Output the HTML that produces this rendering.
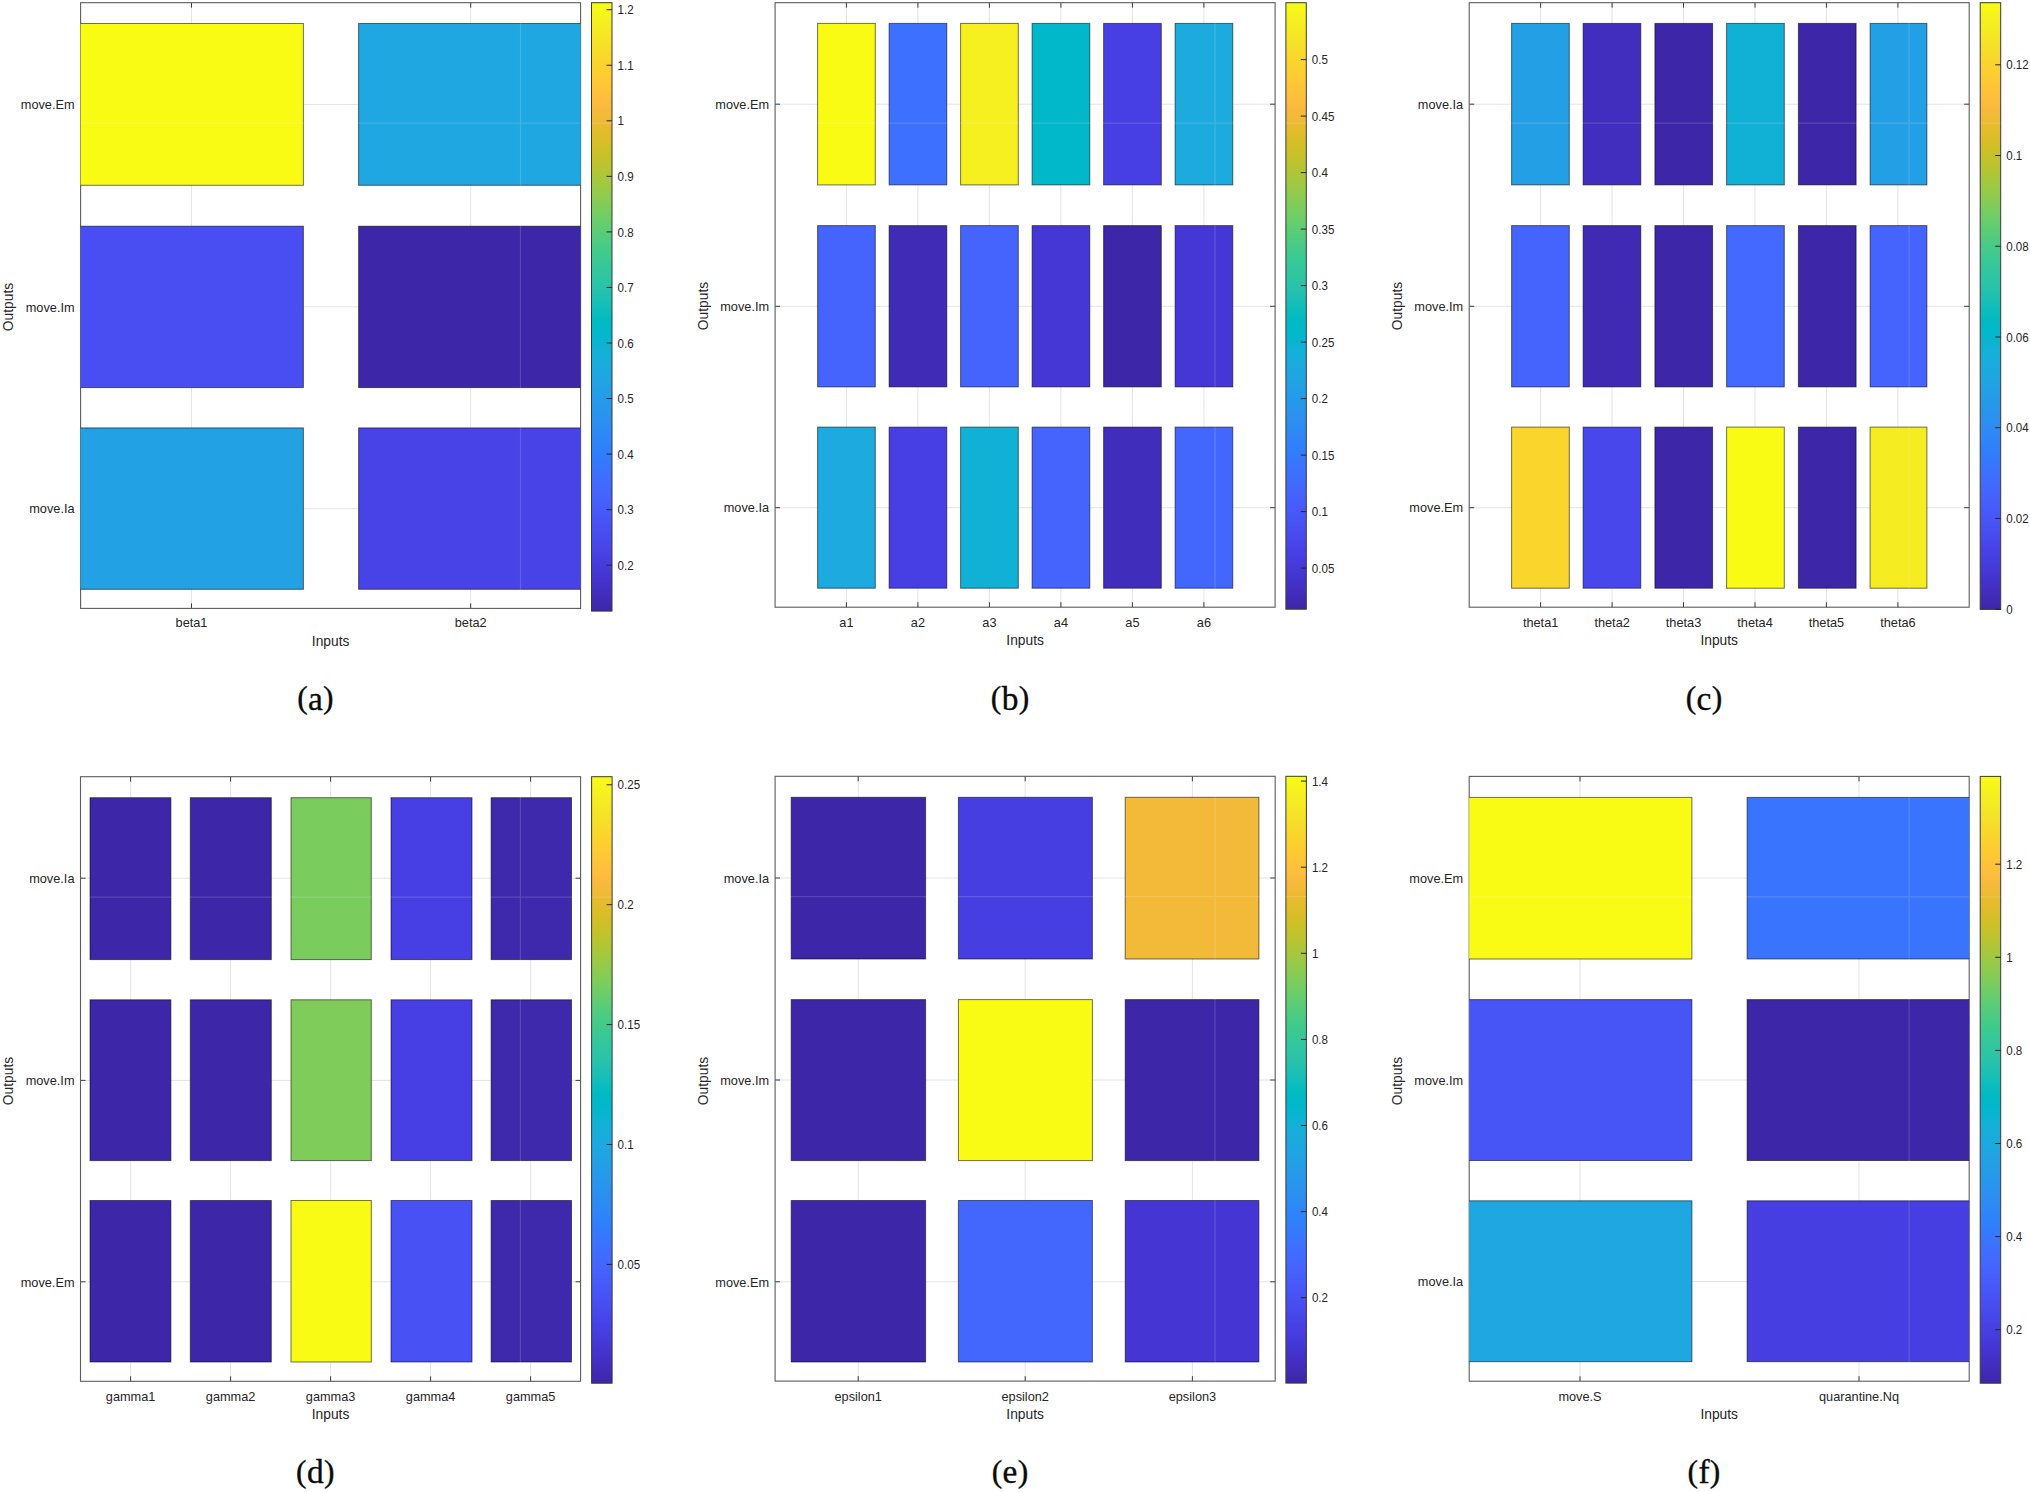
<!DOCTYPE html>
<html lang="en"><head><meta charset="utf-8"><title>Sensitivity heatmaps</title>
<style>html,body{margin:0;padding:0;background:#fff}body{width:2030px;height:1492px;overflow:hidden}svg{display:block}.t{font:12.75px "Liberation Sans",Arial,sans-serif;fill:#262626}.l{font:13.8px "Liberation Sans",Arial,sans-serif;fill:#262626}.b{font:12.8px "Liberation Sans",Arial,sans-serif;fill:#262626}.c{font:33.4px "Liberation Serif","Times New Roman",serif;fill:#0a0a0a;stroke:#0a0a0a;stroke-width:.35px}.p{font-size:31.6px}</style></head><body>
<svg width="2030" height="1492" viewBox="0 0 2030 1492">
<defs><linearGradient id="par" x1="0" y1="1" x2="0" y2="0">
<stop offset="0.0000" stop-color="#3e26a8"/>
<stop offset="0.0159" stop-color="#402ab4"/>
<stop offset="0.0317" stop-color="#422ec0"/>
<stop offset="0.0476" stop-color="#4332cb"/>
<stop offset="0.0635" stop-color="#4537d5"/>
<stop offset="0.0794" stop-color="#463cde"/>
<stop offset="0.0952" stop-color="#4741e5"/>
<stop offset="0.1111" stop-color="#4747eb"/>
<stop offset="0.1270" stop-color="#484df0"/>
<stop offset="0.1429" stop-color="#4852f4"/>
<stop offset="0.1587" stop-color="#4758f8"/>
<stop offset="0.1746" stop-color="#465efb"/>
<stop offset="0.1905" stop-color="#4563fd"/>
<stop offset="0.2063" stop-color="#4269fe"/>
<stop offset="0.2222" stop-color="#3e6fff"/>
<stop offset="0.2381" stop-color="#3875fe"/>
<stop offset="0.2540" stop-color="#327cfc"/>
<stop offset="0.2698" stop-color="#2f81fa"/>
<stop offset="0.2857" stop-color="#2e87f7"/>
<stop offset="0.3016" stop-color="#2d8cf3"/>
<stop offset="0.3175" stop-color="#2b91ef"/>
<stop offset="0.3333" stop-color="#2797eb"/>
<stop offset="0.3492" stop-color="#259be8"/>
<stop offset="0.3651" stop-color="#23a0e5"/>
<stop offset="0.3810" stop-color="#20a5e3"/>
<stop offset="0.3968" stop-color="#1ca9df"/>
<stop offset="0.4127" stop-color="#18addb"/>
<stop offset="0.4286" stop-color="#12b1d6"/>
<stop offset="0.4444" stop-color="#08b5d0"/>
<stop offset="0.4603" stop-color="#01b8ca"/>
<stop offset="0.4762" stop-color="#02bac3"/>
<stop offset="0.4921" stop-color="#0bbdbd"/>
<stop offset="0.5079" stop-color="#19bfb6"/>
<stop offset="0.5238" stop-color="#24c1ae"/>
<stop offset="0.5397" stop-color="#2cc4a7"/>
<stop offset="0.5556" stop-color="#31c69f"/>
<stop offset="0.5714" stop-color="#37c897"/>
<stop offset="0.5873" stop-color="#3fca8e"/>
<stop offset="0.6032" stop-color="#4acb84"/>
<stop offset="0.6190" stop-color="#57cc7a"/>
<stop offset="0.6349" stop-color="#64cd6f"/>
<stop offset="0.6508" stop-color="#72cd64"/>
<stop offset="0.6667" stop-color="#81cc59"/>
<stop offset="0.6825" stop-color="#8fcb4e"/>
<stop offset="0.6984" stop-color="#9dc943"/>
<stop offset="0.7143" stop-color="#abc739"/>
<stop offset="0.7302" stop-color="#b9c431"/>
<stop offset="0.7460" stop-color="#c5c22a"/>
<stop offset="0.7619" stop-color="#d1bf27"/>
<stop offset="0.7778" stop-color="#dcbd29"/>
<stop offset="0.7937" stop-color="#e6bb2d"/>
<stop offset="0.8095" stop-color="#f0ba36"/>
<stop offset="0.8254" stop-color="#f8ba3d"/>
<stop offset="0.8413" stop-color="#febe3c"/>
<stop offset="0.8571" stop-color="#fec338"/>
<stop offset="0.8730" stop-color="#fec934"/>
<stop offset="0.8889" stop-color="#fccf30"/>
<stop offset="0.9048" stop-color="#fad62d"/>
<stop offset="0.9206" stop-color="#f7dc2a"/>
<stop offset="0.9365" stop-color="#f5e327"/>
<stop offset="0.9524" stop-color="#f5e924"/>
<stop offset="0.9683" stop-color="#f6ef20"/>
<stop offset="0.9841" stop-color="#f7f51b"/>
<stop offset="1.0000" stop-color="#f9fb15"/>
</linearGradient></defs>
<rect width="2030" height="1492" fill="#fff"/>
<path d="M191.5 2.7V608.4M470.7 2.7V608.4M80.6 104.5H580.6M80.6 306.8H580.6M80.6 508.7H580.6" stroke="#e4e4e4" stroke-width="1" fill="none"/>
<path d="M191.5 608.4v-5M191.5 2.7v5M470.7 608.4v-5M470.7 2.7v5M80.6 104.5h5M580.6 104.5h-5M80.6 306.8h5M580.6 306.8h-5M80.6 508.7h5M580.6 508.7h-5" stroke="#3c3c3c" stroke-width="1" fill="none"/>
<rect x="80.6" y="2.7" width="500" height="605.7" fill="none" stroke="#5c5c5c" stroke-width="1.1"/>
<clipPath id="ca"><rect x="80.6" y="2.7" width="500" height="605.7"/></clipPath>
<g clip-path="url(#ca)" stroke="#000" stroke-opacity="0.55" stroke-width="1">
<rect x="70" y="23.5" width="233.4" height="161.8" fill="#f9fb15"/>
<rect x="358.6" y="23.5" width="241.4" height="161.8" fill="#1ea7e1"/>
<rect x="70" y="226.2" width="233.4" height="161.4" fill="#484ef1"/>
<rect x="358.6" y="226.2" width="241.4" height="161.4" fill="#3e26a8"/>
<rect x="70" y="427.9" width="233.4" height="161.4" fill="#22a1e4"/>
<rect x="358.6" y="427.9" width="241.4" height="161.4" fill="#4743e7"/>
</g>
<text transform="translate(191.5 627.4) scale(1 1.03)" text-anchor="middle" class="t">beta1</text>
<text transform="translate(470.7 627.4) scale(1 1.03)" text-anchor="middle" class="t">beta2</text>
<text transform="translate(74.6 109.2) scale(1 1.03)" text-anchor="end" class="t">move.Em</text>
<text transform="translate(74.6 311.5) scale(1 1.03)" text-anchor="end" class="t">move.Im</text>
<text transform="translate(74.6 513.4) scale(1 1.03)" text-anchor="end" class="t">move.Ia</text>
<text x="330.6" y="645.95" text-anchor="middle" class="l">Inputs</text>
<text transform="translate(13 307) rotate(-90)" text-anchor="middle" class="l">Outputs</text>
<text x="315.4" y="708.2" text-anchor="middle" class="c"><tspan class="p">(</tspan><tspan dy="1.5" dx="0.3">a</tspan><tspan class="p" dy="-1.5" dx="0.3">)</tspan></text>
<rect x="591.5" y="2.7" width="20.5" height="608.4" fill="url(#par)" stroke="#3a3a3a" stroke-width="1"/>
<text transform="translate(617.5 14.35) scale(.905 1)" class="b">1.2</text>
<text transform="translate(617.5 69.9) scale(.905 1)" class="b">1.1</text>
<text transform="translate(617.5 125.45) scale(.905 1)" class="b">1</text>
<text transform="translate(617.5 181) scale(.905 1)" class="b">0.9</text>
<text transform="translate(617.5 236.55) scale(.905 1)" class="b">0.8</text>
<text transform="translate(617.5 292.1) scale(.905 1)" class="b">0.7</text>
<text transform="translate(617.5 347.65) scale(.905 1)" class="b">0.6</text>
<text transform="translate(617.5 403.2) scale(.905 1)" class="b">0.5</text>
<text transform="translate(617.5 458.75) scale(.905 1)" class="b">0.4</text>
<text transform="translate(617.5 514.3) scale(.905 1)" class="b">0.3</text>
<text transform="translate(617.5 569.85) scale(.905 1)" class="b">0.2</text>
<path d="M612 9.7h-5.5M612 65.25h-5.5M612 120.8h-5.5M612 176.35h-5.5M612 231.9h-5.5M612 287.45h-5.5M612 343h-5.5M612 398.55h-5.5M612 454.1h-5.5M612 509.65h-5.5M612 565.2h-5.5" stroke="#262626" stroke-width="1" fill="none"/>
<path d="M520.5 3.3V607.8M81.2 123.1H580M591.5 123.1H612" stroke="#fff" stroke-opacity="0.15" stroke-width="1.2" fill="none"/>
<path d="M846.4 2.7V607.2M917.9 2.7V607.2M989.4 2.7V607.2M1060.9 2.7V607.2M1132.4 2.7V607.2M1203.9 2.7V607.2M775.1 104.2H1275.1M775.1 306.3H1275.1M775.1 507.7H1275.1" stroke="#e4e4e4" stroke-width="1" fill="none"/>
<path d="M846.4 607.2v-5M846.4 2.7v5M917.9 607.2v-5M917.9 2.7v5M989.4 607.2v-5M989.4 2.7v5M1060.9 607.2v-5M1060.9 2.7v5M1132.4 607.2v-5M1132.4 2.7v5M1203.9 607.2v-5M1203.9 2.7v5M775.1 104.2h5M1275.1 104.2h-5M775.1 306.3h5M1275.1 306.3h-5M775.1 507.7h5M1275.1 507.7h-5" stroke="#3c3c3c" stroke-width="1" fill="none"/>
<rect x="775.1" y="2.7" width="500" height="604.5" fill="none" stroke="#5c5c5c" stroke-width="1.1"/>
<clipPath id="cb"><rect x="775.1" y="2.7" width="500" height="604.5"/></clipPath>
<g clip-path="url(#cb)" stroke="#000" stroke-opacity="0.55" stroke-width="1">
<rect x="817.6" y="23.4" width="57.7" height="161.5" fill="#f9fb15"/>
<rect x="889.1" y="23.4" width="57.7" height="161.5" fill="#3d70ff"/>
<rect x="960.6" y="23.4" width="57.7" height="161.5" fill="#f6f020"/>
<rect x="1032.1" y="23.4" width="57.7" height="161.5" fill="#01b8ca"/>
<rect x="1103.6" y="23.4" width="57.7" height="161.5" fill="#473fe3"/>
<rect x="1175.1" y="23.4" width="57.7" height="161.5" fill="#1caadf"/>
<rect x="817.6" y="225.6" width="57.7" height="161.3" fill="#4563fd"/>
<rect x="889.1" y="225.6" width="57.7" height="161.3" fill="#402bb7"/>
<rect x="960.6" y="225.6" width="57.7" height="161.3" fill="#4563fd"/>
<rect x="1032.1" y="225.6" width="57.7" height="161.3" fill="#4537d6"/>
<rect x="1103.6" y="225.6" width="57.7" height="161.3" fill="#3e26a8"/>
<rect x="1175.1" y="225.6" width="57.7" height="161.3" fill="#4537d6"/>
<rect x="817.6" y="427.1" width="57.7" height="161.1" fill="#1caadf"/>
<rect x="889.1" y="427.1" width="57.7" height="161.1" fill="#473fe3"/>
<rect x="960.6" y="427.1" width="57.7" height="161.1" fill="#11b1d6"/>
<rect x="1032.1" y="427.1" width="57.7" height="161.1" fill="#4563fd"/>
<rect x="1103.6" y="427.1" width="57.7" height="161.1" fill="#412dbb"/>
<rect x="1175.1" y="427.1" width="57.7" height="161.1" fill="#4367fd"/>
</g>
<text transform="translate(846.4 626.9) scale(1 1.03)" text-anchor="middle" class="t">a1</text>
<text transform="translate(917.9 626.9) scale(1 1.03)" text-anchor="middle" class="t">a2</text>
<text transform="translate(989.4 626.9) scale(1 1.03)" text-anchor="middle" class="t">a3</text>
<text transform="translate(1060.9 626.9) scale(1 1.03)" text-anchor="middle" class="t">a4</text>
<text transform="translate(1132.4 626.9) scale(1 1.03)" text-anchor="middle" class="t">a5</text>
<text transform="translate(1203.9 626.9) scale(1 1.03)" text-anchor="middle" class="t">a6</text>
<text transform="translate(769.1 108.9) scale(1 1.03)" text-anchor="end" class="t">move.Em</text>
<text transform="translate(769.1 311) scale(1 1.03)" text-anchor="end" class="t">move.Im</text>
<text transform="translate(769.1 512.4) scale(1 1.03)" text-anchor="end" class="t">move.Ia</text>
<text x="1025.1" y="645.45" text-anchor="middle" class="l">Inputs</text>
<text transform="translate(707.6 306) rotate(-90)" text-anchor="middle" class="l">Outputs</text>
<text x="1010" y="708.2" text-anchor="middle" class="c"><tspan class="p">(</tspan><tspan dy="1.5" dx="0.3">b</tspan><tspan class="p" dy="-1.5" dx="0.3">)</tspan></text>
<rect x="1285.9" y="2.7" width="20.4" height="606.5" fill="url(#par)" stroke="#3a3a3a" stroke-width="1"/>
<text transform="translate(1311.8 64.25) scale(.905 1)" class="b">0.5</text>
<text transform="translate(1311.8 120.75) scale(.905 1)" class="b">0.45</text>
<text transform="translate(1311.8 177.25) scale(.905 1)" class="b">0.4</text>
<text transform="translate(1311.8 233.75) scale(.905 1)" class="b">0.35</text>
<text transform="translate(1311.8 290.25) scale(.905 1)" class="b">0.3</text>
<text transform="translate(1311.8 346.75) scale(.905 1)" class="b">0.25</text>
<text transform="translate(1311.8 403.25) scale(.905 1)" class="b">0.2</text>
<text transform="translate(1311.8 459.75) scale(.905 1)" class="b">0.15</text>
<text transform="translate(1311.8 516.25) scale(.905 1)" class="b">0.1</text>
<text transform="translate(1311.8 572.75) scale(.905 1)" class="b">0.05</text>
<path d="M1306.3 59.6h-5.5M1306.3 116.1h-5.5M1306.3 172.6h-5.5M1306.3 229.1h-5.5M1306.3 285.6h-5.5M1306.3 342.1h-5.5M1306.3 398.6h-5.5M1306.3 455.1h-5.5M1306.3 511.6h-5.5M1306.3 568.1h-5.5" stroke="#262626" stroke-width="1" fill="none"/>
<path d="M1215 3.3V606.6M775.7 123.1H1274.5M1285.9 123.1H1306.3" stroke="#fff" stroke-opacity="0.15" stroke-width="1.2" fill="none"/>
<path d="M1540.6 2.7V607.2M1612.1 2.7V607.2M1683.5 2.7V607.2M1755 2.7V607.2M1826.4 2.7V607.2M1897.9 2.7V607.2M1469.2 104.2H1969.2M1469.2 306.3H1969.2M1469.2 507.7H1969.2" stroke="#e4e4e4" stroke-width="1" fill="none"/>
<path d="M1540.6 607.2v-5M1540.6 2.7v5M1612.1 607.2v-5M1612.1 2.7v5M1683.5 607.2v-5M1683.5 2.7v5M1755 607.2v-5M1755 2.7v5M1826.4 607.2v-5M1826.4 2.7v5M1897.9 607.2v-5M1897.9 2.7v5M1469.2 104.2h5M1969.2 104.2h-5M1469.2 306.3h5M1969.2 306.3h-5M1469.2 507.7h5M1969.2 507.7h-5" stroke="#3c3c3c" stroke-width="1" fill="none"/>
<rect x="1469.2" y="2.7" width="500" height="604.5" fill="none" stroke="#5c5c5c" stroke-width="1.1"/>
<clipPath id="cc"><rect x="1469.2" y="2.7" width="500" height="604.5"/></clipPath>
<g clip-path="url(#cc)" stroke="#000" stroke-opacity="0.55" stroke-width="1">
<rect x="1511.6" y="23.4" width="57.7" height="161.5" fill="#23a0e5"/>
<rect x="1583.1" y="23.4" width="57.7" height="161.5" fill="#422ebe"/>
<rect x="1654.9" y="23.4" width="57.7" height="161.5" fill="#3e26a8"/>
<rect x="1726.6" y="23.4" width="57.7" height="161.5" fill="#11b1d6"/>
<rect x="1798.4" y="23.4" width="57.7" height="161.5" fill="#3e26a8"/>
<rect x="1870.1" y="23.4" width="56.8" height="161.5" fill="#23a0e5"/>
<rect x="1511.6" y="225.6" width="57.7" height="161.3" fill="#4563fd"/>
<rect x="1583.1" y="225.6" width="57.7" height="161.3" fill="#402ab4"/>
<rect x="1654.9" y="225.6" width="57.7" height="161.3" fill="#3e26a8"/>
<rect x="1726.6" y="225.6" width="57.7" height="161.3" fill="#4369fe"/>
<rect x="1798.4" y="225.6" width="57.7" height="161.3" fill="#3e26a8"/>
<rect x="1870.1" y="225.6" width="56.8" height="161.3" fill="#4563fd"/>
<rect x="1511.6" y="427.1" width="57.7" height="161.1" fill="#fad62d"/>
<rect x="1583.1" y="427.1" width="57.7" height="161.1" fill="#4747eb"/>
<rect x="1654.9" y="427.1" width="57.7" height="161.1" fill="#3e26a8"/>
<rect x="1726.6" y="427.1" width="57.7" height="161.1" fill="#f9fb15"/>
<rect x="1798.4" y="427.1" width="57.7" height="161.1" fill="#3e26a8"/>
<rect x="1870.1" y="427.1" width="56.8" height="161.1" fill="#f5ec22"/>
</g>
<text transform="translate(1540.6 626.9) scale(1 1.03)" text-anchor="middle" class="t">theta1</text>
<text transform="translate(1612.1 626.9) scale(1 1.03)" text-anchor="middle" class="t">theta2</text>
<text transform="translate(1683.5 626.9) scale(1 1.03)" text-anchor="middle" class="t">theta3</text>
<text transform="translate(1755 626.9) scale(1 1.03)" text-anchor="middle" class="t">theta4</text>
<text transform="translate(1826.4 626.9) scale(1 1.03)" text-anchor="middle" class="t">theta5</text>
<text transform="translate(1897.9 626.9) scale(1 1.03)" text-anchor="middle" class="t">theta6</text>
<text transform="translate(1463.2 108.9) scale(1 1.03)" text-anchor="end" class="t">move.Ia</text>
<text transform="translate(1463.2 311) scale(1 1.03)" text-anchor="end" class="t">move.Im</text>
<text transform="translate(1463.2 512.4) scale(1 1.03)" text-anchor="end" class="t">move.Em</text>
<text x="1719.2" y="645.45" text-anchor="middle" class="l">Inputs</text>
<text transform="translate(1402.1 306) rotate(-90)" text-anchor="middle" class="l">Outputs</text>
<text x="1704" y="708.2" text-anchor="middle" class="c"><tspan class="p">(</tspan><tspan dy="1.5" dx="0.3">c</tspan><tspan class="p" dy="-1.5" dx="0.3">)</tspan></text>
<rect x="1980.2" y="2.7" width="20.5" height="606.7" fill="url(#par)" stroke="#3a3a3a" stroke-width="1"/>
<text transform="translate(2006.2 69.45) scale(.905 1)" class="b">0.12</text>
<text transform="translate(2006.2 160.18) scale(.905 1)" class="b">0.1</text>
<text transform="translate(2006.2 250.91) scale(.905 1)" class="b">0.08</text>
<text transform="translate(2006.2 341.64) scale(.905 1)" class="b">0.06</text>
<text transform="translate(2006.2 432.37) scale(.905 1)" class="b">0.04</text>
<text transform="translate(2006.2 523.1) scale(.905 1)" class="b">0.02</text>
<text transform="translate(2006.2 613.83) scale(.905 1)" class="b">0</text>
<path d="M2000.7 64.8h-5.5M2000.7 155.53h-5.5M2000.7 246.26h-5.5M2000.7 336.99h-5.5M2000.7 427.72h-5.5M2000.7 518.45h-5.5M2000.7 609.18h-5.5" stroke="#262626" stroke-width="1" fill="none"/>
<path d="M1909.1 3.3V606.6M1469.8 123.1H1968.6M1980.2 123.1H2000.7" stroke="#fff" stroke-opacity="0.15" stroke-width="1.2" fill="none"/>
<path d="M130.6 776.7V1381.3M230.6 776.7V1381.3M330.6 776.7V1381.3M430.6 776.7V1381.3M530.6 776.7V1381.3M80.5 878.2H580.6M80.5 1080.4H580.6M80.5 1281.8H580.6" stroke="#e4e4e4" stroke-width="1" fill="none"/>
<path d="M130.6 1381.3v-5M130.6 776.7v5M230.6 1381.3v-5M230.6 776.7v5M330.6 1381.3v-5M330.6 776.7v5M430.6 1381.3v-5M430.6 776.7v5M530.6 1381.3v-5M530.6 776.7v5M80.5 878.2h5M580.6 878.2h-5M80.5 1080.4h5M580.6 1080.4h-5M80.5 1281.8h5M580.6 1281.8h-5" stroke="#3c3c3c" stroke-width="1" fill="none"/>
<rect x="80.5" y="776.7" width="500.1" height="604.6" fill="none" stroke="#5c5c5c" stroke-width="1.1"/>
<clipPath id="cd"><rect x="80.5" y="776.7" width="500.1" height="604.6"/></clipPath>
<g clip-path="url(#cd)" stroke="#000" stroke-opacity="0.55" stroke-width="1">
<rect x="90" y="797.7" width="80.9" height="161.9" fill="#3e26a8"/>
<rect x="190.3" y="797.7" width="81" height="161.9" fill="#3e26a8"/>
<rect x="291" y="797.7" width="80.3" height="161.9" fill="#7acc5d"/>
<rect x="391" y="797.7" width="81" height="161.9" fill="#473fe3"/>
<rect x="491.1" y="797.7" width="80.4" height="161.9" fill="#3e28ac"/>
<rect x="90" y="999.8" width="80.9" height="160.8" fill="#3e26a8"/>
<rect x="190.3" y="999.8" width="81" height="160.8" fill="#3e26a8"/>
<rect x="291" y="999.8" width="80.3" height="160.8" fill="#7fcc5a"/>
<rect x="391" y="999.8" width="81" height="160.8" fill="#473fe3"/>
<rect x="491.1" y="999.8" width="80.4" height="160.8" fill="#3e28ac"/>
<rect x="90" y="1200.5" width="80.9" height="161.5" fill="#3e26a8"/>
<rect x="190.3" y="1200.5" width="81" height="161.5" fill="#3e26a8"/>
<rect x="291" y="1200.5" width="80.3" height="161.5" fill="#f9fb15"/>
<rect x="391" y="1200.5" width="81" height="161.5" fill="#4851f4"/>
<rect x="491.1" y="1200.5" width="80.4" height="161.5" fill="#3e28ac"/>
</g>
<text transform="translate(130.6 1400.5) scale(1 1.03)" text-anchor="middle" class="t">gamma1</text>
<text transform="translate(230.6 1400.5) scale(1 1.03)" text-anchor="middle" class="t">gamma2</text>
<text transform="translate(330.6 1400.5) scale(1 1.03)" text-anchor="middle" class="t">gamma3</text>
<text transform="translate(430.6 1400.5) scale(1 1.03)" text-anchor="middle" class="t">gamma4</text>
<text transform="translate(530.6 1400.5) scale(1 1.03)" text-anchor="middle" class="t">gamma5</text>
<text transform="translate(74.5 882.9) scale(1 1.03)" text-anchor="end" class="t">move.Ia</text>
<text transform="translate(74.5 1085.1) scale(1 1.03)" text-anchor="end" class="t">move.Im</text>
<text transform="translate(74.5 1286.5) scale(1 1.03)" text-anchor="end" class="t">move.Em</text>
<text x="330.55" y="1419.05" text-anchor="middle" class="l">Inputs</text>
<text transform="translate(13 1081) rotate(-90)" text-anchor="middle" class="l">Outputs</text>
<text x="315.3" y="1482.3" text-anchor="middle" class="c"><tspan class="p">(</tspan><tspan dy="0.8" dx="0.3">d</tspan><tspan class="p" dy="-0.8" dx="0.3">)</tspan></text>
<rect x="591.6" y="776.7" width="20.5" height="606.5" fill="url(#par)" stroke="#3a3a3a" stroke-width="1"/>
<text transform="translate(617.6 789.45) scale(.905 1)" class="b">0.25</text>
<text transform="translate(617.6 909.35) scale(.905 1)" class="b">0.2</text>
<text transform="translate(617.6 1029.25) scale(.905 1)" class="b">0.15</text>
<text transform="translate(617.6 1149.15) scale(.905 1)" class="b">0.1</text>
<text transform="translate(617.6 1269.05) scale(.905 1)" class="b">0.05</text>
<path d="M612.1 784.8h-5.5M612.1 904.7h-5.5M612.1 1024.6h-5.5M612.1 1144.5h-5.5M612.1 1264.4h-5.5" stroke="#262626" stroke-width="1" fill="none"/>
<path d="M520.4 777.3V1380.7M81.1 897.1H580M591.6 897.1H612.1" stroke="#fff" stroke-opacity="0.15" stroke-width="1.2" fill="none"/>
<path d="M858.2 776.3V1381.1M1025.2 776.3V1381.1M1192.4 776.3V1381.1M775.1 878H1275.2M775.1 1080H1275.2M775.1 1281.8H1275.2" stroke="#e4e4e4" stroke-width="1" fill="none"/>
<path d="M858.2 1381.1v-5M858.2 776.3v5M1025.2 1381.1v-5M1025.2 776.3v5M1192.4 1381.1v-5M1192.4 776.3v5M775.1 878h5M1275.2 878h-5M775.1 1080h5M1275.2 1080h-5M775.1 1281.8h5M1275.2 1281.8h-5" stroke="#3c3c3c" stroke-width="1" fill="none"/>
<rect x="775.1" y="776.3" width="500.1" height="604.8" fill="none" stroke="#5c5c5c" stroke-width="1.1"/>
<clipPath id="ce"><rect x="775.1" y="776.3" width="500.1" height="604.8"/></clipPath>
<g clip-path="url(#ce)" stroke="#000" stroke-opacity="0.55" stroke-width="1">
<rect x="791.2" y="797.3" width="134.4" height="161.7" fill="#3e26a8"/>
<rect x="958.4" y="797.3" width="134" height="161.7" fill="#463ee1"/>
<rect x="1125.2" y="797.3" width="133.7" height="161.7" fill="#f2ba38"/>
<rect x="791.2" y="999.6" width="134.4" height="161" fill="#3e26a8"/>
<rect x="958.4" y="999.6" width="134" height="161" fill="#f9fb15"/>
<rect x="1125.2" y="999.6" width="133.7" height="161" fill="#3e26a8"/>
<rect x="791.2" y="1200.5" width="134.4" height="161.5" fill="#3e26a8"/>
<rect x="958.4" y="1200.5" width="134" height="161.5" fill="#4367fd"/>
<rect x="1125.2" y="1200.5" width="133.7" height="161.5" fill="#4536d3"/>
</g>
<text transform="translate(858.2 1400.5) scale(1 1.03)" text-anchor="middle" class="t">epsilon1</text>
<text transform="translate(1025.2 1400.5) scale(1 1.03)" text-anchor="middle" class="t">epsilon2</text>
<text transform="translate(1192.4 1400.5) scale(1 1.03)" text-anchor="middle" class="t">epsilon3</text>
<text transform="translate(769.1 882.7) scale(1 1.03)" text-anchor="end" class="t">move.Ia</text>
<text transform="translate(769.1 1084.7) scale(1 1.03)" text-anchor="end" class="t">move.Im</text>
<text transform="translate(769.1 1286.5) scale(1 1.03)" text-anchor="end" class="t">move.Em</text>
<text x="1025.15" y="1419.05" text-anchor="middle" class="l">Inputs</text>
<text transform="translate(707.6 1081) rotate(-90)" text-anchor="middle" class="l">Outputs</text>
<text x="1010" y="1482.3" text-anchor="middle" class="c"><tspan class="p">(</tspan><tspan dy="0.8" dx="0.3">e</tspan><tspan class="p" dy="-0.8" dx="0.3">)</tspan></text>
<rect x="1285.9" y="776.3" width="20.5" height="606.8" fill="url(#par)" stroke="#3a3a3a" stroke-width="1"/>
<text transform="translate(1311.9 785.75) scale(.905 1)" class="b">1.4</text>
<text transform="translate(1311.9 871.85) scale(.905 1)" class="b">1.2</text>
<text transform="translate(1311.9 957.95) scale(.905 1)" class="b">1</text>
<text transform="translate(1311.9 1044.05) scale(.905 1)" class="b">0.8</text>
<text transform="translate(1311.9 1130.15) scale(.905 1)" class="b">0.6</text>
<text transform="translate(1311.9 1216.25) scale(.905 1)" class="b">0.4</text>
<text transform="translate(1311.9 1302.35) scale(.905 1)" class="b">0.2</text>
<path d="M1306.4 781.1h-5.5M1306.4 867.2h-5.5M1306.4 953.3h-5.5M1306.4 1039.4h-5.5M1306.4 1125.5h-5.5M1306.4 1211.6h-5.5M1306.4 1297.7h-5.5" stroke="#262626" stroke-width="1" fill="none"/>
<path d="M1215 776.9V1380.5M775.7 896.7H1274.6M1285.9 896.7H1306.4" stroke="#fff" stroke-opacity="0.15" stroke-width="1.2" fill="none"/>
<path d="M1580 776.4V1381.2M1859 776.4V1381.2M1469.2 878H1969.2M1469.2 1080H1969.2M1469.2 1281.5H1969.2" stroke="#e4e4e4" stroke-width="1" fill="none"/>
<path d="M1580 1381.2v-5M1580 776.4v5M1859 1381.2v-5M1859 776.4v5M1469.2 878h5M1969.2 878h-5M1469.2 1080h5M1969.2 1080h-5M1469.2 1281.5h5M1969.2 1281.5h-5" stroke="#3c3c3c" stroke-width="1" fill="none"/>
<rect x="1469.2" y="776.4" width="500" height="604.8" fill="none" stroke="#5c5c5c" stroke-width="1.1"/>
<clipPath id="cf"><rect x="1469.2" y="776.4" width="500" height="604.8"/></clipPath>
<g clip-path="url(#cf)" stroke="#000" stroke-opacity="0.55" stroke-width="1">
<rect x="1460" y="797.4" width="231.9" height="161.6" fill="#f9fb15"/>
<rect x="1747.1" y="797.4" width="242.9" height="161.6" fill="#3974fe"/>
<rect x="1460" y="999.6" width="231.9" height="160.9" fill="#4755f6"/>
<rect x="1747.1" y="999.6" width="242.9" height="160.9" fill="#3e26a8"/>
<rect x="1460" y="1200.8" width="231.9" height="160.9" fill="#1ea7e1"/>
<rect x="1747.1" y="1200.8" width="242.9" height="160.9" fill="#463ee1"/>
</g>
<text transform="translate(1580 1400.5) scale(1 1.03)" text-anchor="middle" class="t">move.S</text>
<text transform="translate(1859 1400.5) scale(1 1.03)" text-anchor="middle" class="t">quarantine.Nq</text>
<text transform="translate(1463.2 882.7) scale(1 1.03)" text-anchor="end" class="t">move.Em</text>
<text transform="translate(1463.2 1084.7) scale(1 1.03)" text-anchor="end" class="t">move.Im</text>
<text transform="translate(1463.2 1286.2) scale(1 1.03)" text-anchor="end" class="t">move.Ia</text>
<text x="1719.2" y="1419.05" text-anchor="middle" class="l">Inputs</text>
<text transform="translate(1402.1 1081) rotate(-90)" text-anchor="middle" class="l">Outputs</text>
<text x="1704" y="1482.3" text-anchor="middle" class="c"><tspan class="p">(</tspan><tspan dy="0.8" dx="0.3">f</tspan><tspan class="p" dy="-0.8" dx="0.3">)</tspan></text>
<rect x="1980.2" y="776.4" width="20.5" height="606.8" fill="url(#par)" stroke="#3a3a3a" stroke-width="1"/>
<text transform="translate(2006.2 868.85) scale(.905 1)" class="b">1.2</text>
<text transform="translate(2006.2 961.95) scale(.905 1)" class="b">1</text>
<text transform="translate(2006.2 1055.05) scale(.905 1)" class="b">0.8</text>
<text transform="translate(2006.2 1148.15) scale(.905 1)" class="b">0.6</text>
<text transform="translate(2006.2 1241.25) scale(.905 1)" class="b">0.4</text>
<text transform="translate(2006.2 1334.35) scale(.905 1)" class="b">0.2</text>
<path d="M2000.7 864.2h-5.5M2000.7 957.3h-5.5M2000.7 1050.4h-5.5M2000.7 1143.5h-5.5M2000.7 1236.6h-5.5M2000.7 1329.7h-5.5" stroke="#262626" stroke-width="1" fill="none"/>
<path d="M1909.1 777V1380.6M1469.8 896.8H1968.6M1980.2 896.8H2000.7" stroke="#fff" stroke-opacity="0.15" stroke-width="1.2" fill="none"/>
</svg></body></html>
